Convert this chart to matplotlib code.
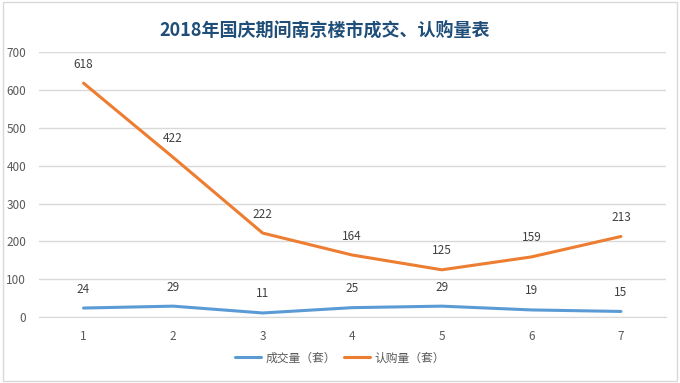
import matplotlib
matplotlib.use("Agg")
import matplotlib.pyplot as plt
from matplotlib.patches import Rectangle

plt.rcParams['font.family'] = ['Noto Sans CJK SC', 'DejaVu Sans']

days = [1, 2, 3, 4, 5, 6, 7]
deals = [24, 29, 11, 25, 29, 19, 15]
subscriptions = [618, 422, 222, 164, 125, 159, 213]
yticks = [0, 100, 200, 300, 400, 500, 600, 700]

fig = plt.figure(figsize=(6.8, 3.83), dpi=100)
fig.patches.append(Rectangle((0.004, 0.006), 0.991, 0.988, transform=fig.transFigure,
                             fill=False, edgecolor='#D9D9D9', linewidth=1))
ax = fig.add_axes([0.057, 0.172, 0.922, 0.692])

ax.plot(days, deals, color='#5B9BD5', linewidth=2.2, label='成交量（套）', solid_capstyle='round')
ax.plot(days, subscriptions, color='#ED7D31', linewidth=2.2, label='认购量（套）', solid_capstyle='round')

for x, y in zip(days, deals):
    ax.annotate(str(y), (x, y), xytext=(0, 9), textcoords='offset points',
                ha='center', va='bottom', fontsize=8.5, color='#404040')
for x, y in zip(days, subscriptions):
    ax.annotate(str(y), (x, y), xytext=(0, 9), textcoords='offset points',
                ha='center', va='bottom', fontsize=8.5, color='#404040')

ax.set_xlim(0.5, 7.5)
ax.set_ylim(0, 700)
ax.set_yticks(yticks)
ax.set_xticks(days)
ax.grid(axis='y', color='#D9D9D9', linewidth=1)
ax.set_axisbelow(True)
for s in ['top', 'right', 'left']:
    ax.spines[s].set_visible(False)
ax.spines['bottom'].set_color('#D9D9D9')
ax.tick_params(length=0, labelsize=8.5, colors='#595959', pad=9)

fig.suptitle('2018年国庆期间南京楼市成交、认购量表', x=0.478, y=0.945,
             fontsize=13, fontweight='bold', color='#1F4E79')

fig.legend(loc='center', bbox_to_anchor=(0.5, 0.065), ncol=2, frameon=False,
           fontsize=8.5, handlelength=2.2, columnspacing=0.6, handletextpad=0.4,
           labelcolor='#595959')

fig.savefig('out.png', dpi=100)
